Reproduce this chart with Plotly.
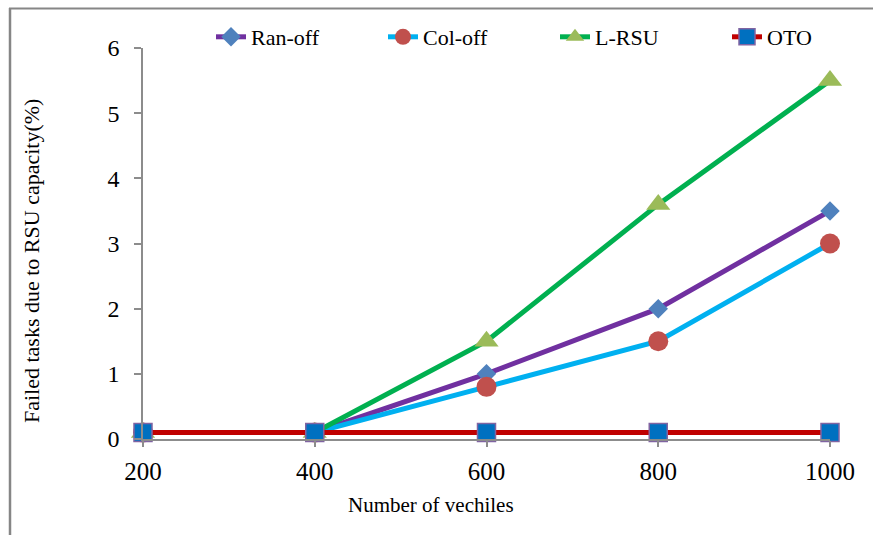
import plotly.graph_objects as go

# Data
vehicles = [200, 400, 600, 800, 1000]
ran_off = [0.1, 0.1, 1.0, 2.0, 3.5]
col_off = [0.1, 0.1, 0.8, 1.5, 3.0]
l_rsu = [0.1, 0.1, 1.5, 3.6, 5.5]
oto = [0.1, 0.1, 0.1, 0.1, 0.1]

W, H = 873, 535
ML, MR, MT, MB = 143, 43, 48, 96
PW, PH = W - ML - MR, H - MT - MB

FONT = "Liberation Serif, Times New Roman, serif"
AXIS_GRAY = "#8c8c8c"

series = [
    ("Ran-off", ran_off, "#7030A0", dict(symbol="diamond", size=15, color="#4F81BD")),
    ("Col-off", col_off, "#00B0F0", dict(symbol="circle", size=20, color="#C0504D")),
    ("L-RSU", l_rsu, "#00B050", dict(symbol="triangle-up", size=21, color="#9BBB59")),
    ("OTO", oto, "#C00000", dict(symbol="square", size=18, color="#0070C0",
                                  line=dict(color="#8064A2", width=1.5))),
]

fig = go.Figure()
for name, vals, lc, mk in series:
    fig.add_trace(go.Scatter(
        x=vehicles, y=vals, name=name, mode="lines+markers",
        line=dict(color=lc, width=5), marker=mk, cliponaxis=False,
    ))

def px_x(p):
    return (p - ML) / PW

def px_y(p):
    return 1 - (p - MT) / PH

fig.update_layout(
    width=W, height=H,
    margin=dict(l=ML, r=MR, t=MT, b=MB, autoexpand=False),
    paper_bgcolor="white", plot_bgcolor="white",
    font=dict(family=FONT, color="black"),
    showlegend=True,
    legend=dict(
        orientation="h", xref="container", yref="container",
        x=211 / W, xanchor="left", y=1 - 37 / H, yanchor="middle",
        font=dict(size=22, family=FONT), entrywidth=127, entrywidthmode="pixels",
        bgcolor="rgba(0,0,0,0)",
    ),
    xaxis=dict(
        range=[200, 1000], tickvals=vehicles, showgrid=False, zeroline=False,
        showline=True, linecolor=AXIS_GRAY, linewidth=1.5,
        ticks="outside", ticklen=6, tickcolor=AXIS_GRAY, tickwidth=1.5,
        tickfont=dict(size=25, family=FONT), ticklabelstandoff=3,
    ),
    yaxis=dict(
        range=[0, 6], dtick=1, showgrid=False, zeroline=False,
        showline=True, linecolor=AXIS_GRAY, linewidth=1.5,
        ticks="outside", ticklen=7, tickcolor=AXIS_GRAY, tickwidth=1.5,
        tickfont=dict(size=24, family=FONT), ticklabelstandoff=10,
    ),
    annotations=[
        dict(text="Number of vechiles", xref="paper", yref="paper",
             x=px_x(431), y=px_y(505), xanchor="center", yanchor="middle",
             showarrow=False, font=dict(size=21, family=FONT)),
        dict(text="Failed tasks due to RSU capacity(%)", xref="paper", yref="paper",
             x=px_x(31), y=px_y(261), xanchor="center", yanchor="middle",
             textangle=-90, showarrow=False, font=dict(size=22, family=FONT)),
    ],
    shapes=[
        dict(type="line", xref="paper", yref="paper",
             x0=px_x(10), x1=px_x(10), y0=px_y(8), y1=px_y(H + 5),
             line=dict(color="#868686", width=2.5)),
        dict(type="line", xref="paper", yref="paper",
             x0=px_x(9), x1=px_x(W + 5), y0=px_y(8.5), y1=px_y(8.5),
             line=dict(color="#868686", width=2)),
    ],
)

fig.write_html("out.html")
